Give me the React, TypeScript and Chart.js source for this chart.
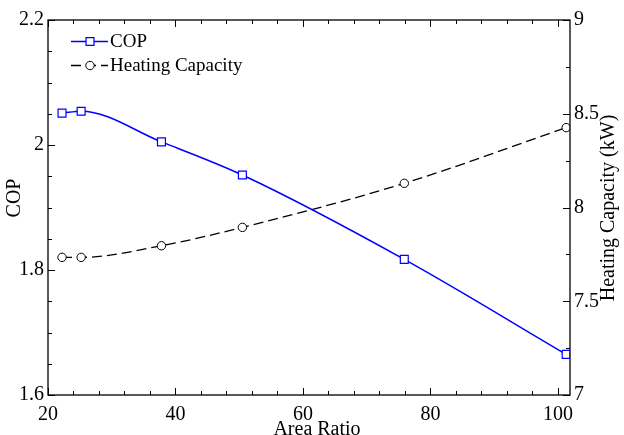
import React, { useEffect, useRef } from 'react';
import { Chart, registerables } from 'chart.js';

Chart.register(...registerables);

const AREA_RATIO = [22.2, 25.2, 37.8, 50.5, 75.9, 101.3];
const COP = [2.051, 2.054, 2.005, 1.952, 1.817, 1.665];
const HEATING_CAPACITY = [7.734, 7.734, 7.796, 7.894, 8.129, 8.426];
const X_TICKS = [20, 40, 60, 80, 100];
const COP_TICKS = [1.6, 1.8, 2, 2.2];
const HC_TICKS = [7, 7.5, 8, 8.5, 9];
const X_MINOR_STEP = 4;
const COP_MINOR_STEP = 0.05;
const HC_MINOR_STEP = 0.25;

const FONT = 'Liberation Serif, Times New Roman, serif';
const BLUE = '#0000ff';

const decorPlugin = {
  id: 'decor',
  afterDraw(chart: any) {
    const { ctx, chartArea: a, scales } = chart;
    const x = scales.x, yl = scales.y, yr = scales.y1;
    ctx.save();
    ctx.strokeStyle = '#000';
    ctx.lineWidth = 1.3;
    ctx.strokeRect(a.left, a.top, a.right - a.left, a.bottom - a.top);
    ctx.lineWidth = 1;
    const MAJ = 7, MIN = 4;
    ctx.beginPath();
    for (let v = x.min; v <= x.max + 1e-9; v += X_MINOR_STEP) {
      const p = Math.round(x.getPixelForValue(v)) + 0.5;
      const major = X_TICKS.some((t) => Math.abs(t - v) < 1e-6);
      const L = major ? MAJ : MIN;
      ctx.moveTo(p, a.bottom); ctx.lineTo(p, a.bottom - L);
      ctx.moveTo(p, a.top); ctx.lineTo(p, a.top + L);
    }
    for (let i = 0; yl.min + i * COP_MINOR_STEP <= yl.max + 1e-9; i++) {
      const v = yl.min + i * COP_MINOR_STEP;
      const p = Math.round(yl.getPixelForValue(v)) + 0.5;
      const major = COP_TICKS.some((t) => Math.abs(t - v) < 1e-6);
      const L = major ? MAJ : MIN;
      ctx.moveTo(a.left, p); ctx.lineTo(a.left + L, p);
    }
    for (let i = 0; yr.min + i * HC_MINOR_STEP <= yr.max + 1e-9; i++) {
      const v = yr.min + i * HC_MINOR_STEP;
      const p = Math.round(yr.getPixelForValue(v)) + 0.5;
      const major = HC_TICKS.some((t) => Math.abs(t - v) < 1e-6);
      const L = major ? MAJ : MIN;
      ctx.moveTo(a.right, p); ctx.lineTo(a.right - L, p);
    }
    ctx.stroke();

    // legend
    const ds = chart.data.datasets;
    const lx0 = a.left + 23, lx1 = a.left + 60, mx = a.left + 42;
    const rows = [a.top + 21.5, a.top + 45.5];
    ds.forEach((d: any, i: number) => {
      const y = rows[i];
      ctx.save();
      ctx.strokeStyle = d.borderColor;
      ctx.lineWidth = d.borderWidth;
      ctx.setLineDash(d.borderDash || []);
      ctx.beginPath();
      ctx.moveTo(lx0, y); ctx.lineTo(lx1, y);
      ctx.stroke();
      ctx.setLineDash([]);
      ctx.fillStyle = '#fff';
      ctx.strokeStyle = d.pointBorderColor;
      ctx.lineWidth = d.pointBorderWidth;
      ctx.beginPath();
      if (d.pointStyle === 'rect') {
        const s = d.pointRadius * Math.SQRT1_2;
        ctx.rect(mx - s, y - s, 2 * s, 2 * s);
      } else {
        ctx.arc(mx, y, d.pointRadius, 0, Math.PI * 2);
      }
      ctx.fill(); ctx.stroke();
      ctx.fillStyle = '#000';
      ctx.font = `19px ${FONT}`;
      ctx.textBaseline = 'middle';
      ctx.textAlign = 'left';
      ctx.fillText(d.label, lx1 + 2, y + 1);
      ctx.restore();
    });

    // axis titles
    ctx.fillStyle = '#000';
    ctx.font = `20px ${FONT}`;
    ctx.textAlign = 'center';
    ctx.textBaseline = 'middle';
    ctx.fillText('Area Ratio', 317, 429.5);

    ctx.save();
    ctx.translate(15, 198);
    ctx.rotate(-Math.PI / 2);
    ctx.fillText('COP', 0, 0);
    ctx.restore();

    ctx.save();
    ctx.translate(609, 208);
    ctx.rotate(-Math.PI / 2);
    ctx.fillText('Heating Capacity (kW)', 0, 0);
    ctx.restore();
    ctx.restore();
  },
};

export default function App() {
  const ref = useRef<HTMLCanvasElement | null>(null);
  useEffect(() => {
    if (!ref.current) return;
    const chart = new Chart(ref.current, {
      type: 'line',
      data: {
        datasets: [
          {
            label: 'COP',
            data: AREA_RATIO.map((v, i) => ({ x: v, y: COP[i] })),
            yAxisID: 'y',
            borderColor: BLUE,
            borderWidth: 1.5,
            pointStyle: 'rect',
            pointRadius: 5.6,
            pointBackgroundColor: '#fff',
            pointBorderColor: BLUE,
            pointBorderWidth: 1.2,
            cubicInterpolationMode: 'monotone',
            fill: false,
          } as any,
          {
            label: 'Heating Capacity',
            data: AREA_RATIO.map((v, i) => ({ x: v, y: HEATING_CAPACITY[i] })),
            yAxisID: 'y1',
            borderColor: '#000',
            borderWidth: 1.3,
            borderDash: [10, 5],
            pointStyle: 'circle',
            pointRadius: 4.2,
            pointBackgroundColor: '#fff',
            pointBorderColor: '#000',
            pointBorderWidth: 1,
            cubicInterpolationMode: 'monotone',
            fill: false,
          } as any,
        ],
      },
      options: {
        responsive: false,
        animation: false,
        devicePixelRatio: 1,
        layout: { padding: { top: 20, left: 0, right: 0, bottom: 0 } },
        plugins: { legend: { display: false }, tooltip: { enabled: false } },
        scales: {
          x: {
            type: 'linear',
            min: 20,
            max: 101.9,
            grid: { display: false, drawTicks: false },
            border: { display: false },
            afterBuildTicks: (s: any) => { s.ticks = X_TICKS.map((v) => ({ value: v })); },
            afterFit: (s: any) => { s.height = 40; },
            ticks: { color: '#000', font: { family: FONT, size: 20 }, padding: 8, maxRotation: 0, autoSkip: false, callback: (v: any) => String(v) },
          },
          y: {
            type: 'linear',
            position: 'left',
            min: 1.6,
            max: 2.2,
            grid: { display: false, drawTicks: false },
            border: { display: false },
            afterBuildTicks: (s: any) => { s.ticks = COP_TICKS.map((v) => ({ value: v })); },
            afterFit: (s: any) => { s.width = 48; },
            ticks: { color: '#000', font: { family: FONT, size: 20 }, padding: 4, autoSkip: false, callback: (v: any) => String(v) },
          },
          y1: {
            type: 'linear',
            position: 'right',
            min: 7,
            max: 9,
            grid: { display: false, drawTicks: false },
            border: { display: false },
            afterBuildTicks: (s: any) => { s.ticks = HC_TICKS.map((v) => ({ value: v })); },
            afterFit: (s: any) => { s.width = 54; },
            ticks: { color: '#000', font: { family: FONT, size: 20 }, padding: 4, autoSkip: false, callback: (v: any) => String(v) },
          },
        },
      } as any,
      plugins: [decorPlugin],
    });
    return () => chart.destroy();
  }, []);
  return (
    <div style={{ position: 'absolute', left: 0, top: 0, width: 624, height: 435, background: '#fff' }}>
      <canvas ref={ref} width={624} height={435} />
    </div>
  );
}
